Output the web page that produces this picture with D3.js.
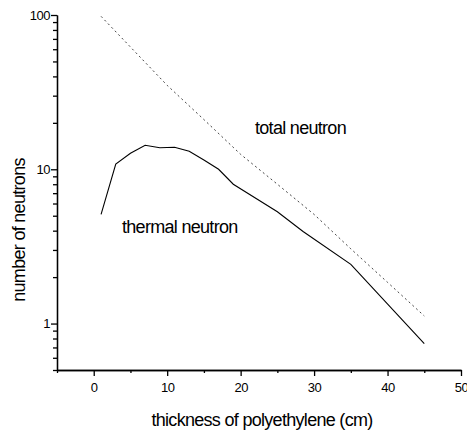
<!DOCTYPE html>
<html>
<head>
<style>
  body { margin: 0; background: #fff; }
  text { font-family: "Liberation Sans", Arial, sans-serif; fill: #000; }
  .lbl { font-size: 18px; letter-spacing: -0.7px; }
  .axis text { font-size: 13px; letter-spacing: -0.5px; }
  .axis path, .axis line { stroke: #000; stroke-width: 1.3; }
</style>
<script src="https://d3js.org/d3.v7.min.js"></script>
</head>
<body>
<svg width="467" height="433"></svg>
<script>
// thickness (cm) and neutron counts
var totalX = [1, 5, 10, 15, 20, 25, 30, 35, 40, 45];
var totalY = [98, 62, 35, 21, 12.5, 8.0, 5.1, 3.05, 1.85, 1.12];
var thermalX = [1, 3, 5, 7, 9, 11, 13, 15, 17, 19, 25, 28.5, 35, 45];
var thermalY = [5.1, 10.8, 12.7, 14.3, 13.8, 13.9, 13.1, 11.5, 10, 8.0, 5.3, 3.95, 2.42, 0.74];

var xMajor = [0, 10, 20, 30, 40, 50];
var xMinor = [-5, 5, 15, 25, 35, 45];
var yMajor = [1, 10, 100];
var yMinor = [0.5, 0.6, 0.7, 0.8, 0.9, 2, 3, 4, 5, 6, 7, 8, 9, 20, 30, 40, 50, 60, 70, 80, 90];

var svg = d3.select("svg");
var x = d3.scaleLinear().domain([-5, 50]).range([57, 461]);
var y = d3.scaleLog().domain([0.5, 100]).range([370, 15]);

// minor ticks first, then the major ones with labels
svg.append("g").attr("class", "axis")
   .attr("transform", "translate(0,370)")
   .call(d3.axisBottom(x).tickValues(xMinor).tickSize(3).tickSizeOuter(0).tickFormat(""));
svg.append("g").attr("class", "axis")
   .attr("transform", "translate(0,370)")
   .call(d3.axisBottom(x).tickValues(xMajor).tickSize(6).tickSizeOuter(0).tickPadding(7).tickFormat(d3.format("d")));

svg.append("g").attr("class", "axis")
   .attr("transform", "translate(57,0)")
   .call(d3.axisLeft(y).tickValues(yMinor).tickSize(4).tickSizeOuter(0).tickFormat(""));
svg.append("g").attr("class", "axis")
   .attr("transform", "translate(57,0)")
   .call(d3.axisLeft(y).tickValues(yMajor).tickSize(6).tickSizeOuter(0).tickPadding(1).tickFormat(d3.format("d")));

var line = d3.line()
   .x(function(d) { return x(d[0]); })
   .y(function(d) { return y(d[1]); });

svg.append("path")
   .datum(d3.zip(totalX, totalY))
   .attr("d", line)
   .attr("fill", "none")
   .attr("stroke", "#444")
   .attr("stroke-width", 1)
   .attr("stroke-dasharray", "2,3");

svg.append("path")
   .datum(d3.zip(thermalX, thermalY))
   .attr("d", line)
   .attr("fill", "none")
   .attr("stroke", "#000")
   .attr("stroke-width", 1.1);

svg.append("text").attr("class", "lbl")
   .attr("x", 255).attr("y", 134)
   .text("total neutron");
svg.append("text").attr("class", "lbl")
   .attr("x", 122).attr("y", 233)
   .text("thermal neutron");

svg.append("text").attr("class", "lbl")
   .attr("x", 262).attr("y", 426)
   .attr("text-anchor", "middle")
   .text("thickness of polyethylene (cm)");
svg.append("text").attr("class", "lbl")
   .attr("transform", "translate(25,230) rotate(-90)")
   .attr("text-anchor", "middle")
   .text("number of neutrons");
</script>
</body>
</html>
